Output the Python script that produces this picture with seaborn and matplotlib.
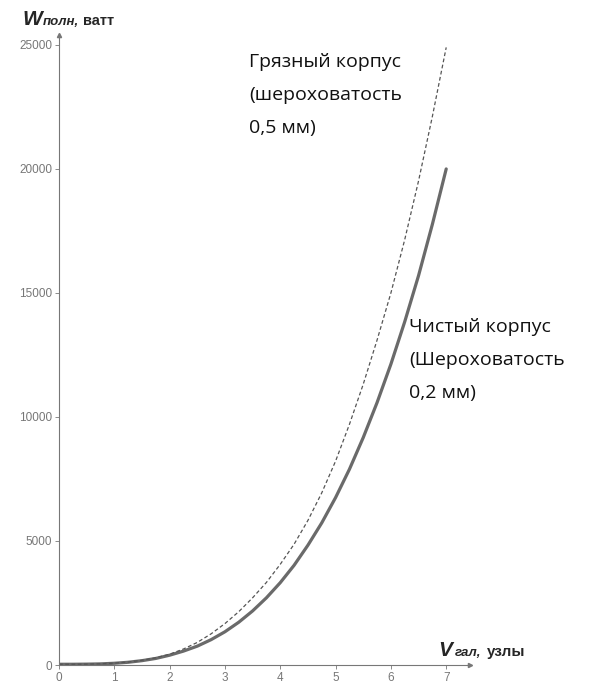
import pandas as pd
import seaborn as sns
import matplotlib.pyplot as plt

# скорость, узлы
speed = [0, 0.25, 0.5, 0.75, 1, 1.25, 1.5, 1.75, 2, 2.25, 2.5, 2.75, 3, 3.25, 3.5,
         3.75, 4, 4.25, 4.5, 4.75, 5, 5.25, 5.5, 5.75, 6, 6.25, 6.5, 6.75, 7]
# мощность, ватт: чистый корпус (шероховатость 0,2 мм)
clean = [30, 30, 35, 45, 70, 110, 175, 265, 395, 560, 760, 1022, 1340, 1725, 2180,
         2710, 3320, 4020, 4830, 5730, 6750, 7890, 9170, 10580, 12130, 13840, 15700, 17770, 20000]
# мощность, ватт: грязный корпус (шероховатость 0,5 мм)
dirty = [30, 30, 35, 47, 75, 118, 190, 290, 435, 645, 910, 1257, 1670, 2150, 2710,
         3330, 4060, 4870, 5830, 6940, 8220, 9700, 11320, 13100, 15000, 17150, 19520, 22120, 24900]

y_ticks = [0, 5000, 10000, 15000, 20000, 25000]
x_ticks = [0, 1, 2, 3, 4, 5, 6, 7]

df = pd.DataFrame({'speed': speed, 'clean': clean, 'dirty': dirty})

sns.set_style('white')
plt.rcParams['font.family'] = ['Liberation Sans', 'DejaVu Sans']

fig = plt.figure(figsize=(5.96, 7), dpi=100)
ax = fig.add_axes([59 / 596, 35 / 700, 411 / 596, 630 / 700])

sns.lineplot(data=df, x='speed', y='clean', ax=ax, color='#6a6a6a', linewidth=2.3)
sns.lineplot(data=df, x='speed', y='dirty', ax=ax, color='#555555', linewidth=0.9,
             linestyle=(0, (3, 2)))

ax.set_xlim(0, 7.43)
ax.set_ylim(0, 25400)
ax.set_xticks(x_ticks)
ax.set_yticks(y_ticks)
ax.set_xticklabels([str(t) for t in x_ticks])
ax.set_yticklabels([str(t) for t in y_ticks])
ax.tick_params(axis='both', labelsize=8.5, colors='#777777', length=3, width=0.6,
               direction='out', bottom=True, left=True, pad=2)
ax.set_xlabel('')
ax.set_ylabel('')

for side in ['top', 'right']:
    ax.spines[side].set_visible(False)
for side in ['left', 'bottom']:
    ax.spines[side].set_color('#777777')
    ax.spines[side].set_linewidth(0.8)

# стрелки на концах осей
ax.plot(1, 0, '>', color='#777777', markersize=3, transform=ax.get_yaxis_transform(), clip_on=False)
ax.plot(0, 1, '^', color='#777777', markersize=3, transform=ax.get_xaxis_transform(), clip_on=False)

# подписи осей
fig.text(22 / 596, 1 - 25 / 700, 'W', fontsize=15, fontweight='bold', style='italic')
fig.text(43 / 596, 1 - 25 / 700, 'полн,', fontsize=9.5, fontweight='bold', style='italic')
fig.text(83 / 596, 1 - 25 / 700, 'ватт', fontsize=10.5, fontweight='bold')

fig.text(438 / 596, 1 - 656 / 700, 'V', fontsize=15, fontweight='bold', style='italic')
fig.text(455 / 596, 1 - 656 / 700, 'гал,', fontsize=9.5, fontweight='bold', style='italic')
fig.text(487 / 596, 1 - 656 / 700, 'узлы', fontsize=11, fontweight='bold')

# подписи кривых
note = dict(fontsize=14, family=['Open Sans', 'DejaVu Sans'], color='#111111',
            linespacing=2.07, va='top', ha='left')
fig.text(249 / 596, 1 - 53 / 700, 'Грязный корпус\n(шероховатость\n0,5 мм)', **note)
fig.text(409 / 596, 1 - 318 / 700, 'Чистый корпус\n(Шероховатость\n0,2 мм)', **note)

plt.savefig('out.png', dpi=100)
